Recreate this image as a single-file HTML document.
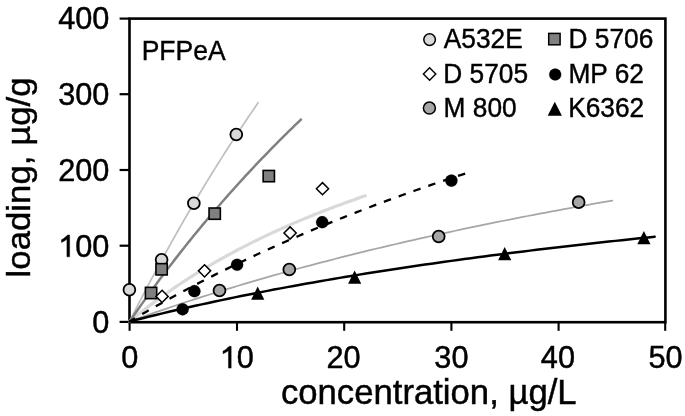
<!DOCTYPE html>
<html><head><meta charset="utf-8"><style>
html,body{margin:0;padding:0;background:#fff;}
svg{display:block;will-change:transform;font-family:"Liberation Sans",sans-serif;}
</style></head><body>
<svg width="685" height="416" viewBox="0 0 685 416">
<rect width="685" height="416" fill="#fff"/>
<rect x="129.5" y="18.6" width="535.9" height="303.6" fill="none" stroke="#000" stroke-width="2.6"/>
<line x1="119.6" y1="18.6" x2="129.5" y2="18.6" stroke="#000" stroke-width="2.2"/><line x1="119.6" y1="94.2" x2="129.5" y2="94.2" stroke="#000" stroke-width="2.2"/><line x1="119.6" y1="170.0" x2="129.5" y2="170.0" stroke="#000" stroke-width="2.2"/><line x1="119.6" y1="245.7" x2="129.5" y2="245.7" stroke="#000" stroke-width="2.2"/><line x1="119.6" y1="321.9" x2="129.5" y2="321.9" stroke="#000" stroke-width="2.2"/><line x1="129.6" y1="322" x2="129.6" y2="330.8" stroke="#000" stroke-width="2.1"/><line x1="237.0" y1="322" x2="237.0" y2="330.8" stroke="#000" stroke-width="2.1"/><line x1="344.2" y1="322" x2="344.2" y2="330.8" stroke="#000" stroke-width="2.1"/><line x1="451.4" y1="322" x2="451.4" y2="330.8" stroke="#000" stroke-width="2.1"/><line x1="558.6" y1="322" x2="558.6" y2="330.8" stroke="#000" stroke-width="2.1"/><line x1="665.2" y1="322" x2="665.2" y2="330.8" stroke="#000" stroke-width="2.1"/>
<path d="M129.60,321.50 L132.55,319.06 L135.49,316.66 L138.44,314.28 L141.38,311.95 L144.33,309.64 L147.27,307.36 L150.22,305.12 L153.17,302.90 L156.11,300.71 L159.06,298.56 L162.00,296.43 L164.95,294.33 L167.90,292.25 L170.84,290.20 L173.79,288.18 L176.73,286.18 L179.68,284.21 L182.62,282.27 L185.57,280.34 L188.52,278.45 L191.46,276.57 L194.41,274.72 L197.35,272.89 L200.30,271.08 L203.25,269.29 L206.19,267.53 L209.14,265.78 L212.08,264.06 L215.03,262.36 L217.97,260.67 L220.92,259.01 L223.87,257.36 L226.81,255.74 L229.76,254.13 L232.70,252.54 L235.65,250.97 L238.59,249.41 L241.54,247.88 L244.49,246.36 L247.43,244.85 L250.38,243.37 L253.32,241.89 L256.27,240.44 L259.22,239.00 L262.16,237.58 L265.11,236.17 L268.05,234.77 L271.00,233.40 L273.94,232.03 L276.89,230.68 L279.84,229.34 L282.78,228.02 L285.73,226.71 L288.67,225.42 L291.62,224.13 L294.56,222.86 L297.51,221.61 L300.46,220.36 L303.40,219.13 L306.35,217.91 L309.29,216.70 L312.24,215.51 L315.19,214.32 L318.13,213.15 L321.08,211.99 L324.02,210.84 L326.97,209.70 L329.91,208.57 L332.86,207.45 L335.81,206.35 L338.75,205.25 L341.70,204.16 L344.64,203.09 L347.59,202.02 L350.53,200.97 L353.48,199.92 L356.43,198.88 L359.37,197.85 L362.32,196.83 L365.26,195.83" fill="none" stroke="#d9d9d9" stroke-width="3.2" stroke-linecap="round" stroke-linejoin="round"/><path d="M129.60,321.50 L131.21,318.29 L132.81,315.10 L134.42,311.92 L136.03,308.75 L137.63,305.60 L139.24,302.46 L140.85,299.34 L142.45,296.23 L144.06,293.13 L145.67,290.05 L147.27,286.98 L148.88,283.92 L150.49,280.87 L152.10,277.84 L153.70,274.82 L155.31,271.82 L156.92,268.82 L158.52,265.84 L160.13,262.87 L161.74,259.92 L163.34,256.97 L164.95,254.04 L166.56,251.12 L168.16,248.22 L169.77,245.32 L171.38,242.44 L172.98,239.57 L174.59,236.71 L176.20,233.86 L177.80,231.03 L179.41,228.20 L181.02,225.39 L182.62,222.59 L184.23,219.80 L185.84,217.02 L187.44,214.26 L189.05,211.50 L190.66,208.76 L192.27,206.02 L193.87,203.30 L195.48,200.59 L197.09,197.89 L198.69,195.20 L200.30,192.52 L201.91,189.85 L203.51,187.20 L205.12,184.55 L206.73,181.91 L208.33,179.29 L209.94,176.67 L211.55,174.07 L213.15,171.47 L214.76,168.89 L216.37,166.31 L217.97,163.75 L219.58,161.19 L221.19,158.65 L222.79,156.11 L224.40,153.59 L226.01,151.08 L227.61,148.57 L229.22,146.07 L230.83,143.59 L232.44,141.11 L234.04,138.65 L235.65,136.19 L237.26,133.74 L238.86,131.30 L240.47,128.87 L242.08,126.45 L243.68,124.04 L245.29,121.64 L246.90,119.25 L248.50,116.86 L250.11,114.49 L251.72,112.12 L253.32,109.77 L254.93,107.42 L256.54,105.08 L258.14,102.75" fill="none" stroke="#c0c0c0" stroke-width="1.75" stroke-linecap="round" stroke-linejoin="round"/><path d="M129.60,321.50 L131.74,318.39 L133.88,315.31 L136.03,312.24 L138.17,309.18 L140.31,306.15 L142.45,303.13 L144.60,300.13 L146.74,297.15 L148.88,294.19 L151.02,291.24 L153.17,288.30 L155.31,285.39 L157.45,282.49 L159.59,279.61 L161.74,276.74 L163.88,273.89 L166.02,271.05 L168.16,268.23 L170.31,265.43 L172.45,262.64 L174.59,259.87 L176.73,257.11 L178.88,254.37 L181.02,251.64 L183.16,248.93 L185.30,246.23 L187.44,243.55 L189.59,240.88 L191.73,238.22 L193.87,235.58 L196.01,232.96 L198.16,230.34 L200.30,227.75 L202.44,225.16 L204.58,222.59 L206.73,220.03 L208.87,217.49 L211.01,214.96 L213.15,212.44 L215.30,209.94 L217.44,207.45 L219.58,204.97 L221.72,202.51 L223.87,200.05 L226.01,197.61 L228.15,195.19 L230.29,192.77 L232.44,190.37 L234.58,187.98 L236.72,185.60 L238.86,183.24 L241.00,180.88 L243.15,178.54 L245.29,176.21 L247.43,173.89 L249.57,171.58 L251.72,169.29 L253.86,167.01 L256.00,164.73 L258.14,162.47 L260.29,160.22 L262.43,157.98 L264.57,155.76 L266.71,153.54 L268.86,151.33 L271.00,149.14 L273.14,146.95 L275.28,144.78 L277.43,142.62 L279.57,140.47 L281.71,138.32 L283.85,136.19 L286.00,134.07 L288.14,131.96 L290.28,129.86 L292.42,127.77 L294.56,125.68 L296.71,123.61 L298.85,121.55 L300.99,119.50" fill="none" stroke="#808080" stroke-width="2.5" stroke-linecap="round" stroke-linejoin="round"/><path d="M129.60,321.50 L135.63,319.32 L141.67,317.17 L147.70,315.05 L153.73,312.94 L159.77,310.86 L165.80,308.80 L171.83,306.76 L177.87,304.75 L183.90,302.75 L189.94,300.78 L195.97,298.83 L202.00,296.90 L208.04,294.99 L214.07,293.10 L220.10,291.22 L226.14,289.37 L232.17,287.54 L238.20,285.72 L244.24,283.92 L250.27,282.14 L256.30,280.38 L262.34,278.64 L268.37,276.91 L274.40,275.20 L280.44,273.51 L286.47,271.83 L292.51,270.17 L298.54,268.53 L304.57,266.90 L310.61,265.29 L316.64,263.69 L322.67,262.11 L328.71,260.54 L334.74,258.99 L340.77,257.45 L346.81,255.93 L352.84,254.42 L358.87,252.92 L364.91,251.44 L370.94,249.97 L376.97,248.52 L383.01,247.08 L389.04,245.65 L395.08,244.23 L401.11,242.83 L407.14,241.44 L413.18,240.06 L419.21,238.69 L425.24,237.34 L431.28,235.99 L437.31,234.66 L443.34,233.34 L449.38,232.03 L455.41,230.74 L461.44,229.45 L467.48,228.18 L473.51,226.91 L479.54,225.66 L485.58,224.41 L491.61,223.18 L497.65,221.96 L503.68,220.75 L509.71,219.54 L515.75,218.35 L521.78,217.17 L527.81,216.00 L533.85,214.83 L539.88,213.68 L545.91,212.53 L551.95,211.40 L557.98,210.27 L564.01,209.16 L570.05,208.05 L576.08,206.95 L582.12,205.86 L588.15,204.77 L594.18,203.70 L600.22,202.63 L606.25,201.58 L612.28,200.53" fill="none" stroke="#a6a6a6" stroke-width="1.75" stroke-linecap="round" stroke-linejoin="round"/><path d="M129.60,321.50 L133.81,319.00 L138.02,316.53 L142.23,314.07 L146.43,311.64 L150.64,309.23 L154.85,306.83 L159.06,304.46 L163.27,302.11 L167.48,299.78 L171.68,297.47 L175.89,295.18 L180.10,292.91 L184.31,290.65 L188.52,288.42 L192.73,286.20 L196.94,284.00 L201.14,281.82 L205.35,279.66 L209.56,277.52 L213.77,275.39 L217.98,273.28 L222.19,271.19 L226.39,269.11 L230.60,267.05 L234.81,265.01 L239.02,262.98 L243.23,260.97 L247.44,258.98 L251.65,257.00 L255.85,255.03 L260.06,253.08 L264.27,251.15 L268.48,249.23 L272.69,247.33 L276.90,245.44 L281.11,243.56 L285.31,241.70 L289.52,239.85 L293.73,238.02 L297.94,236.20 L302.15,234.40 L306.36,232.60 L310.56,230.82 L314.77,229.06 L318.98,227.31 L323.19,225.57 L327.40,223.84 L331.61,222.12 L335.82,220.42 L340.02,218.73 L344.23,217.06 L348.44,215.39 L352.65,213.74 L356.86,212.09 L361.07,210.46 L365.27,208.85 L369.48,207.24 L373.69,205.64 L377.90,204.06 L382.11,202.48 L386.32,200.92 L390.53,199.37 L394.73,197.83 L398.94,196.30 L403.15,194.78 L407.36,193.27 L411.57,191.77 L415.78,190.28 L419.98,188.80 L424.19,187.33 L428.40,185.87 L432.61,184.42 L436.82,182.98 L441.03,181.55 L445.24,180.13 L449.44,178.72 L453.65,177.32 L457.86,175.93 L462.07,174.54 L466.28,173.17" fill="none" stroke="#000" stroke-width="2.3" stroke-dasharray="7.5 8.2" stroke-dashoffset="1.12" stroke-linecap="butt" stroke-linejoin="round"/><path d="M129.60,321.50 L136.16,319.83 L142.73,318.18 L149.29,316.55 L155.86,314.95 L162.42,313.37 L168.98,311.82 L175.55,310.28 L182.11,308.77 L188.67,307.28 L195.24,305.80 L201.80,304.35 L208.37,302.92 L214.93,301.51 L221.49,300.11 L228.06,298.74 L234.62,297.38 L241.18,296.04 L247.75,294.72 L254.31,293.42 L260.88,292.13 L267.44,290.86 L274.00,289.60 L280.57,288.37 L287.13,287.14 L293.69,285.93 L300.26,284.74 L306.82,283.56 L313.39,282.40 L319.95,281.25 L326.51,280.11 L333.08,278.99 L339.64,277.88 L346.20,276.78 L352.77,275.70 L359.33,274.63 L365.90,273.57 L372.46,272.53 L379.02,271.49 L385.59,270.47 L392.15,269.46 L398.71,268.46 L405.28,267.48 L411.84,266.50 L418.41,265.54 L424.97,264.58 L431.53,263.64 L438.10,262.70 L444.66,261.78 L451.23,260.87 L457.79,259.96 L464.35,259.07 L470.92,258.19 L477.48,257.31 L484.04,256.45 L490.61,255.59 L497.17,254.74 L503.74,253.90 L510.30,253.07 L516.86,252.25 L523.43,251.44 L529.99,250.63 L536.55,249.84 L543.12,249.05 L549.68,248.27 L556.25,247.50 L562.81,246.73 L569.37,245.97 L575.94,245.22 L582.50,244.48 L589.06,243.74 L595.63,243.02 L602.19,242.29 L608.76,241.58 L615.32,240.87 L621.88,240.17 L628.45,239.48 L635.01,238.79 L641.57,238.11 L648.14,237.43 L654.70,236.76" fill="none" stroke="#000" stroke-width="2.5" stroke-linecap="round" stroke-linejoin="round"/><circle cx="129.4" cy="289.8" r="5.9" fill="#d9d9d9" stroke="#000" stroke-width="1.8"/><circle cx="161.6" cy="259.7" r="5.9" fill="#d9d9d9" stroke="#000" stroke-width="1.8"/><circle cx="193.85" cy="203.2" r="5.9" fill="#d9d9d9" stroke="#000" stroke-width="1.8"/><circle cx="236.3" cy="134.5" r="5.9" fill="#d9d9d9" stroke="#000" stroke-width="1.8"/><rect x="145.40" y="287.35" width="11.3" height="11.3" fill="#808080" stroke="#000" stroke-width="1.6"/><rect x="155.95" y="263.65" width="11.3" height="11.3" fill="#808080" stroke="#000" stroke-width="1.6"/><rect x="209.05" y="208.00" width="11.3" height="11.3" fill="#808080" stroke="#000" stroke-width="1.6"/><rect x="263.15" y="170.45" width="11.3" height="11.3" fill="#808080" stroke="#000" stroke-width="1.6"/><path d="M162.10,290.30 L168.20,296.40 L162.10,302.50 L156.00,296.40 Z" fill="#fff" stroke="#000" stroke-width="1.5" stroke-linejoin="miter"/><path d="M204.55,264.75 L210.65,270.85 L204.55,276.95 L198.45,270.85 Z" fill="#fff" stroke="#000" stroke-width="1.5" stroke-linejoin="miter"/><path d="M290.10,226.90 L296.20,233.00 L290.10,239.10 L284.00,233.00 Z" fill="#fff" stroke="#000" stroke-width="1.5" stroke-linejoin="miter"/><path d="M322.50,182.60 L328.60,188.70 L322.50,194.80 L316.40,188.70 Z" fill="#fff" stroke="#000" stroke-width="1.5" stroke-linejoin="miter"/><circle cx="182.6" cy="309.3" r="6.1" fill="#000" stroke="#000" stroke-width="0.2"/><circle cx="194.4" cy="291.2" r="6.1" fill="#000" stroke="#000" stroke-width="0.2"/><circle cx="237.1" cy="264.75" r="6.1" fill="#000" stroke="#000" stroke-width="0.2"/><circle cx="322.2" cy="222.2" r="6.1" fill="#000" stroke="#000" stroke-width="0.2"/><circle cx="451.4" cy="180.6" r="6.1" fill="#000" stroke="#000" stroke-width="0.2"/><circle cx="219.5" cy="290.5" r="5.95" fill="#a6a6a6" stroke="#000" stroke-width="1.8"/><circle cx="289.3" cy="269.5" r="5.95" fill="#a6a6a6" stroke="#000" stroke-width="1.8"/><circle cx="438.7" cy="236.5" r="5.95" fill="#a6a6a6" stroke="#000" stroke-width="1.8"/><circle cx="578.65" cy="202.2" r="5.95" fill="#a6a6a6" stroke="#000" stroke-width="1.8"/><path d="M257.70,286.60 L264.30,299.80 L251.10,299.80 Z" fill="#000"/><path d="M354.65,270.45 L361.25,283.65 L348.05,283.65 Z" fill="#000"/><path d="M504.70,247.10 L511.30,260.30 L498.10,260.30 Z" fill="#000"/><path d="M643.90,230.95 L650.50,244.15 L637.30,244.15 Z" fill="#000"/>
<g font-size="30.7" fill="#000" stroke="#000" stroke-width="0.45"><text transform="translate(109.4,28.90) scale(1,1.03)" text-anchor="end">400</text><text transform="translate(109.4,105.00) scale(1,1.03)" text-anchor="end">300</text><text transform="translate(109.4,180.60) scale(1,1.03)" text-anchor="end">200</text><path transform="translate(58.18,256.80) scale(0.014990,-0.015440)" d="M763 0H583V1147C540 1106 483 1065 412 1023C341 981 278 950 222 930V1104C322 1151 409 1208 484 1276C559 1344 613 1409 646 1409H763Z" fill="#000" stroke="#000" stroke-width="30.0"/><text transform="translate(109.4,256.80) scale(1,1.03)" text-anchor="end">00</text><text transform="translate(109.4,332.80) scale(1,1.03)" text-anchor="end">0</text><text transform="translate(129.8,368.1) scale(1,1.03)" text-anchor="middle">0</text><path transform="translate(219.73,368.10) scale(0.014990,-0.015440)" d="M763 0H583V1147C540 1106 483 1065 412 1023C341 981 278 950 222 930V1104C322 1151 409 1208 484 1276C559 1344 613 1409 646 1409H763Z" fill="#000" stroke="#000" stroke-width="30.0"/><text transform="translate(236.80,368.1) scale(1,1.03)">0</text><text transform="translate(343.6,368.1) scale(1,1.03)" text-anchor="middle">20</text><text transform="translate(451.4,368.1) scale(1,1.03)" text-anchor="middle">30</text><text transform="translate(557.9,368.1) scale(1,1.03)" text-anchor="middle">40</text><text transform="translate(665.5,368.1) scale(1,1.03)" text-anchor="middle">50</text></g>
<text transform="translate(141.7,59.8) scale(1,1.065)" font-size="26.5" stroke="#000" stroke-width="0.4">PFPeA</text>
<circle cx="429.6" cy="39.6" r="5.8" fill="#d9d9d9" stroke="#000" stroke-width="1.5"/><rect x="548.70" y="33.40" width="11.4" height="11.4" fill="#808080" stroke="#000" stroke-width="1.5"/><path d="M429.60,67.85 L435.80,74.05 L429.60,80.25 L423.40,74.05 Z" fill="#fff" stroke="#000" stroke-width="1.4" stroke-linejoin="miter"/><circle cx="555.2" cy="74.5" r="6.0" fill="#000" stroke="#000" stroke-width="0.2"/><circle cx="429.4" cy="108.1" r="6.0" fill="#a6a6a6" stroke="#000" stroke-width="1.5"/><path d="M554.80,101.70 L561.90,115.70 L547.70,115.70 Z" fill="#000"/>
<g font-size="26.3" stroke="#000" stroke-width="0.4"><text transform="translate(443.8,47.8) scale(1,1.025)">A532E</text><text transform="translate(568.5,47.8) scale(1,1.025)">D 5706</text><text transform="translate(443.3,82.7) scale(1,1.025)">D 5705</text><text transform="translate(568.4,82.7) scale(1,1.025)">MP 62</text><text transform="translate(443.6,117.2) scale(1,1.025)">M 800</text><text transform="translate(568.2,117.2) scale(1,1.025)">K6362</text></g>
<text x="280.9" y="404.2" font-size="34.7" stroke="#000" stroke-width="0.45">concentration, µg/L</text>
<text transform="translate(29.5,277.4) rotate(-90) scale(1,0.93)" font-size="34.8" stroke="#000" stroke-width="0.45">loading, µg/g</text>
</svg>
</body></html>
